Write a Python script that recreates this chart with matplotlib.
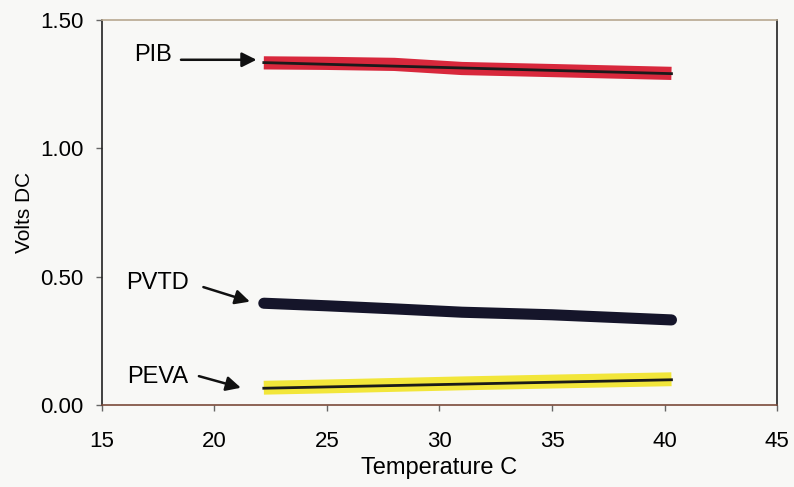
import matplotlib.pyplot as plt

# readings
temp = [22.2, 25, 28, 31, 35, 40.3]
pib = [1.333, 1.331, 1.327, 1.311, 1.303, 1.292]
pvtd = [0.397, 0.387, 0.375, 0.362, 0.352, 0.332]
peva = [0.068, 0.073, 0.079, 0.085, 0.092, 0.101]

# straight fit lines drawn over the bands
pib_fit = [1.334, 1.291]
peva_fit = [0.066, 0.099]
fit_x = [22.2, 40.3]

plt.rcParams['font.family'] = ['Liberation Sans', 'DejaVu Sans']

fig = plt.figure(figsize=(7.94, 4.87), dpi=100, facecolor='#f8f8f6')
ax = fig.add_axes([0.128, 0.168, 0.851, 0.791])
ax.set_facecolor('#f8f8f6')

ax.plot(temp, pib, color='#d8283c', lw=9.5, solid_capstyle='butt')
ax.plot(fit_x, pib_fit, color='#1a1a1a', lw=2)
ax.plot(temp, pvtd, color='#15152a', lw=8, solid_capstyle='round')
ax.plot(temp, peva, color='#f2e63a', lw=10, solid_capstyle='butt')
ax.plot(fit_x, peva_fit, color='#1a1a1a', lw=2)

# labels with arrows
arrow = dict(arrowstyle='-|>', color='#111111', lw=1.8, mutation_scale=22)
ax.annotate('', xy=(22.0, 1.345), xytext=(18.4, 1.345), arrowprops=arrow)
ax.annotate('', xy=(21.7, 0.40), xytext=(19.4, 0.463), arrowprops=arrow)
ax.annotate('', xy=(21.3, 0.065), xytext=(19.2, 0.116), arrowprops=arrow)
ax.text(16.45, 1.362, 'PIB', fontsize=17, va='center', ha='left')
ax.text(16.1, 0.475, 'PVTD', fontsize=17, va='center', ha='left')
ax.text(16.15, 0.108, 'PEVA', fontsize=17, va='center', ha='left')

ax.set_xlim(15, 45)
ax.set_ylim(0, 1.5)
ax.set_xticks([15, 20, 25, 30, 35, 40, 45])
ax.set_yticks([0, 0.5, 1.0, 1.5])
ax.set_yticklabels(['0.00', '0.50', '1.00', '1.50'])
ax.tick_params(labelsize=16, length=4.5, width=1, direction='out', color='#666666')
ax.tick_params(axis='x', pad=14)
ax.tick_params(axis='y', pad=8.5)
ax.set_xlabel('Temperature C', fontsize=17, labelpad=4)
ax.set_ylabel('Volts DC', fontsize=15)
ax.yaxis.set_label_coords(-0.1, 0.5)

for s in ax.spines.values():
    s.set_linewidth(1.2)
    s.set_color('#222222')
ax.spines['top'].set_color('#b8a890')
ax.spines['bottom'].set_color('#7a4a3a')

fig.savefig('out.png', dpi=100, facecolor=fig.get_facecolor())
